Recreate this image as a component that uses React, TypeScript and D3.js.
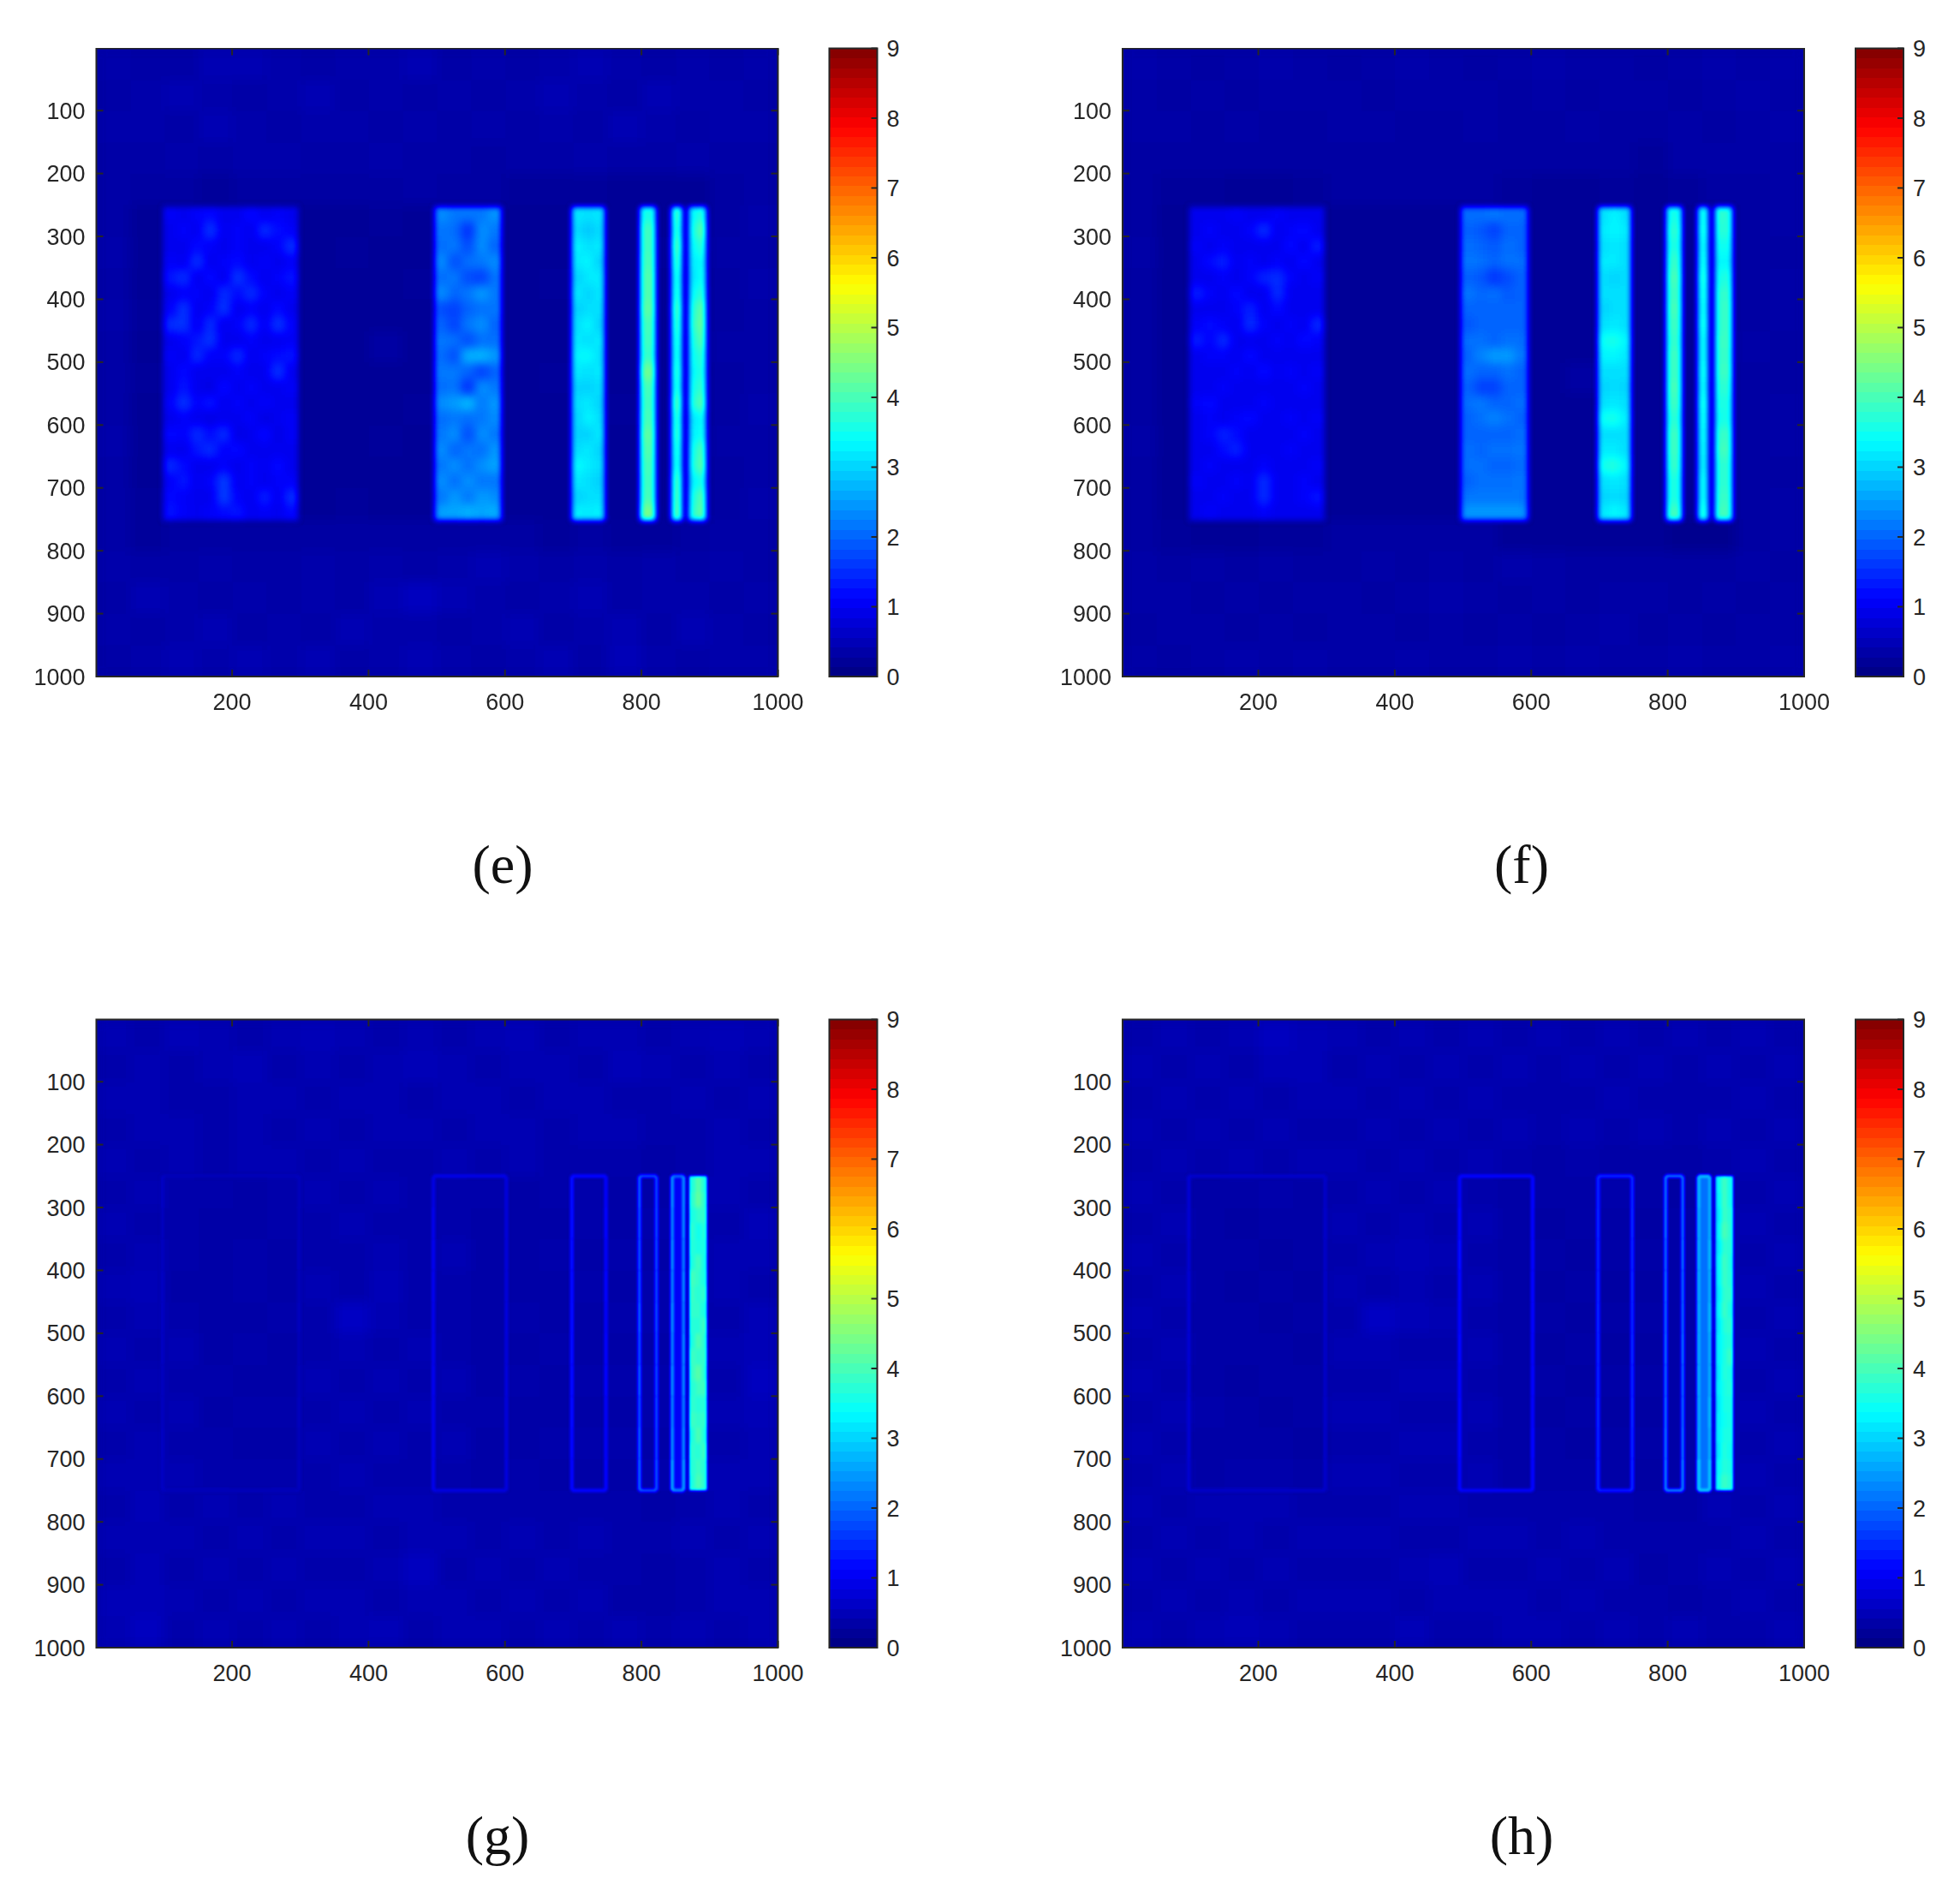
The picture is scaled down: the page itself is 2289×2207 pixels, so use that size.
import React from "react";
import * as d3 from "d3";

// ---- axis content
const xTicks = [200, 400, 600, 800, 1000];
const yTicks = [100, 200, 300, 400, 500, 600, 700, 800, 900, 1000];
const cbTicks = [0, 1, 2, 3, 4, 5, 6, 7, 8, 9];
const panelLabels = ["(e)", "(f)", "(g)", "(h)"];

// ---- background level read on a 50-unit grid (20 rows, 20 columns)
const bgE = [
  [.4,.35,.35,.45,.45,.4,.35,.4,.4,.45,.35,.4,.35,.4,.45,.4,.35,.4,.35,.4],
  [.35,.4,.45,.4,.35,.4,.45,.35,.4,.35,.4,.35,.4,.45,.4,.35,.45,.4,.4,.35],
  [.4,.4,.35,.45,.4,.35,.4,.4,.35,.4,.35,.4,.35,.4,.35,.45,.4,.35,.4,.4],
  [.35,.35,.4,.35,.4,.4,.35,.35,.4,.35,.35,.3,.35,.35,.4,.35,.35,.4,.35,.35],
  [.35,.3,.3,.25,.3,.3,.3,.3,.3,.35,.3,.3,.25,.25,.25,.2,.2,.2,.3,.35],
  [.35,.2,.2,.2,.2,.2,.2,.2,.25,.2,.2,.2,.2,.2,.2,.2,.2,.2,.3,.4],
  [.4,.2,.2,.2,.2,.2,.2,.25,.2,.2,.2,.2,.2,.2,.2,.2,.25,.2,.35,.35],
  [.35,.2,.2,.2,.2,.2,.2,.2,.2,.25,.2,.2,.2,.25,.2,.2,.2,.2,.3,.4],
  [.4,.25,.2,.2,.2,.2,.2,.2,.2,.2,.2,.2,.2,.2,.2,.2,.2,.2,.3,.35],
  [.35,.2,.2,.2,.2,.2,.2,.2,.3,.2,.2,.2,.2,.2,.2,.2,.2,.2,.35,.35],
  [.35,.25,.2,.2,.2,.2,.2,.2,.2,.2,.2,.2,.2,.25,.2,.2,.2,.2,.3,.35],
  [.35,.2,.2,.2,.2,.2,.2,.2,.2,.25,.2,.2,.2,.2,.2,.25,.2,.2,.3,.4],
  [.4,.2,.2,.2,.2,.2,.2,.2,.25,.2,.2,.2,.2,.2,.2,.2,.2,.2,.35,.35],
  [.35,.2,.2,.2,.2,.2,.2,.2,.2,.2,.2,.2,.2,.2,.2,.2,.2,.2,.3,.35],
  [.35,.25,.2,.2,.2,.2,.2,.25,.2,.2,.2,.2,.2,.2,.2,.2,.2,.2,.3,.4],
  [.35,.25,.3,.3,.3,.3,.3,.3,.3,.3,.3,.3,.3,.25,.3,.25,.25,.3,.35,.35],
  [.4,.35,.35,.4,.35,.35,.4,.35,.4,.35,.4,.45,.4,.35,.4,.35,.4,.35,.4,.35],
  [.35,.45,.4,.35,.4,.35,.4,.35,.45,.55,.45,.4,.35,.4,.45,.35,.4,.4,.35,.4],
  [.4,.35,.4,.45,.35,.4,.35,.45,.4,.4,.35,.4,.45,.35,.4,.45,.35,.45,.4,.35],
  [.35,.4,.45,.4,.45,.4,.45,.35,.4,.45,.4,.35,.4,.45,.35,.5,.4,.35,.4,.4],
];
const bgF = [
  [.4,.35,.3,.35,.4,.35,.3,.35,.4,.35,.3,.35,.4,.35,.35,.3,.35,.4,.35,.4],
  [.35,.3,.35,.3,.35,.35,.35,.3,.35,.35,.35,.3,.35,.3,.35,.35,.3,.35,.4,.35],
  [.35,.35,.3,.35,.3,.3,.35,.35,.3,.3,.35,.3,.3,.35,.3,.3,.35,.3,.35,.4],
  [.3,.3,.3,.3,.3,.3,.3,.3,.3,.3,.3,.3,.3,.3,.3,.25,.35,.35,.35,.35],
  [.3,.25,.25,.2,.2,.25,.3,.3,.3,.3,.3,.25,.2,.2,.25,.2,.25,.3,.3,.35],
  [.3,.2,.2,.2,.2,.2,.2,.2,.2,.2,.2,.2,.2,.2,.2,.2,.2,.2,.3,.35],
  [.35,.2,.2,.2,.2,.2,.2,.22,.2,.2,.2,.2,.2,.2,.2,.2,.2,.2,.3,.3],
  [.3,.2,.2,.2,.2,.2,.2,.2,.2,.2,.2,.2,.2,.2,.2,.2,.2,.2,.3,.35],
  [.3,.2,.2,.2,.2,.2,.2,.2,.2,.2,.2,.2,.2,.2,.2,.2,.2,.2,.3,.35],
  [.3,.2,.2,.2,.2,.2,.2,.2,.22,.2,.2,.2,.2,.2,.2,.2,.2,.2,.35,.3],
  [.3,.2,.2,.2,.2,.2,.2,.2,.2,.2,.2,.2,.2,.3,.2,.2,.2,.2,.3,.3],
  [.3,.2,.2,.2,.2,.2,.2,.22,.2,.2,.2,.2,.2,.2,.2,.2,.2,.2,.3,.35],
  [.35,.2,.2,.2,.2,.2,.2,.2,.2,.2,.2,.2,.2,.2,.2,.2,.2,.2,.3,.35],
  [.3,.2,.2,.2,.2,.2,.2,.2,.2,.2,.2,.2,.2,.2,.2,.2,.22,.2,.3,.3],
  [.3,.2,.2,.2,.2,.2,.2,.2,.2,.2,.2,.2,.2,.2,.2,.2,.2,.2,.3,.35],
  [.3,.25,.2,.2,.25,.25,.3,.3,.3,.3,.3,.2,.2,.2,.2,.2,.15,.15,.3,.35],
  [.35,.3,.35,.3,.35,.3,.3,.35,.3,.35,.3,.4,.35,.3,.3,.3,.3,.3,.35,.3],
  [.35,.35,.3,.35,.3,.35,.35,.3,.35,.4,.35,.3,.35,.3,.35,.35,.3,.35,.3,.35],
  [.3,.35,.35,.3,.35,.3,.35,.35,.3,.35,.3,.35,.3,.35,.4,.3,.35,.3,.35,.35],
  [.35,.3,.35,.4,.35,.4,.35,.35,.4,.35,.35,.4,.35,.4,.35,.35,.4,.35,.35,.4],
];
const bgG = [
  [.45,.4,.5,.45,.4,.45,.5,.45,.4,.45,.4,.45,.5,.4,.45,.45,.4,.45,.5,.45],
  [.4,.45,.4,.45,.5,.4,.45,.4,.45,.5,.45,.4,.45,.45,.4,.5,.45,.4,.45,.4],
  [.45,.45,.4,.4,.45,.45,.4,.45,.45,.4,.45,.45,.4,.45,.45,.4,.4,.45,.4,.45],
  [.4,.45,.45,.4,.45,.4,.45,.4,.45,.45,.4,.45,.45,.4,.45,.45,.4,.4,.45,.4],
  [.45,.4,.45,.4,.45,.45,.4,.45,.4,.4,.45,.4,.45,.4,.4,.4,.35,.4,.45,.45],
  [.4,.45,.4,.4,.35,.4,.45,.4,.45,.4,.4,.4,.35,.4,.4,.35,.35,.45,.45,.4],
  [.45,.4,.4,.35,.35,.4,.4,.45,.4,.4,.4,.35,.35,.35,.4,.35,.4,.4,.4,.5],
  [.4,.45,.4,.35,.4,.35,.4,.4,.45,.4,.45,.35,.35,.4,.35,.4,.35,.4,.45,.45],
  [.45,.5,.35,.35,.4,.35,.45,.4,.5,.4,.4,.35,.35,.35,.4,.35,.4,.4,.45,.4],
  [.4,.45,.4,.35,.35,.4,.4,.6,.45,.4,.4,.35,.4,.35,.35,.4,.4,.4,.4,.5],
  [.45,.4,.45,.35,.4,.35,.4,.45,.4,.45,.4,.35,.35,.4,.35,.35,.35,.45,.45,.5],
  [.4,.45,.4,.4,.35,.35,.45,.4,.45,.4,.45,.35,.4,.35,.4,.4,.4,.4,.4,.55],
  [.45,.4,.45,.35,.4,.4,.4,.45,.4,.45,.4,.4,.35,.35,.35,.35,.4,.45,.45,.5],
  [.4,.45,.4,.4,.35,.35,.45,.4,.45,.4,.45,.35,.35,.4,.4,.4,.35,.4,.4,.45],
  [.45,.45,.45,.4,.4,.4,.4,.45,.4,.4,.4,.35,.4,.35,.35,.35,.4,.45,.45,.45],
  [.4,.5,.4,.45,.4,.45,.4,.4,.45,.45,.4,.4,.4,.4,.4,.4,.35,.4,.45,.4],
  [.45,.45,.45,.4,.45,.4,.45,.45,.4,.45,.45,.4,.45,.4,.45,.4,.4,.45,.4,.45],
  [.4,.5,.4,.45,.4,.45,.4,.4,.45,.55,.4,.45,.4,.45,.4,.4,.35,.4,.45,.4],
  [.5,.5,.45,.4,.45,.4,.45,.45,.4,.45,.45,.4,.45,.4,.45,.35,.35,.4,.45,.45],
  [.45,.55,.4,.45,.4,.45,.4,.45,.5,.4,.45,.45,.4,.45,.4,.45,.4,.45,.4,.45],
];
const bgH = [
  [.4,.45,.4,.45,.55,.5,.45,.4,.45,.4,.45,.4,.45,.4,.45,.4,.45,.4,.45,.4],
  [.45,.4,.45,.4,.5,.5,.4,.45,.4,.45,.4,.45,.4,.45,.4,.45,.4,.45,.4,.45],
  [.4,.45,.4,.45,.4,.45,.45,.4,.45,.4,.45,.4,.4,.4,.45,.4,.4,.4,.45,.4],
  [.45,.4,.45,.4,.45,.4,.4,.45,.4,.45,.4,.45,.4,.45,.4,.45,.4,.45,.4,.45],
  [.4,.45,.4,.45,.4,.45,.45,.4,.45,.4,.45,.4,.35,.4,.35,.35,.35,.4,.45,.4],
  [.45,.4,.35,.35,.4,.35,.4,.45,.4,.45,.4,.35,.35,.35,.4,.35,.3,.4,.4,.45],
  [.4,.45,.35,.3,.35,.35,.45,.4,.45,.4,.45,.35,.3,.35,.35,.3,.35,.4,.45,.4],
  [.45,.4,.35,.35,.3,.35,.4,.45,.5,.45,.4,.35,.35,.3,.35,.35,.35,.45,.4,.45],
  [.4,.45,.35,.3,.35,.3,.45,.4,.45,.4,.45,.35,.3,.35,.3,.3,.35,.4,.45,.4],
  [.45,.4,.35,.35,.3,.35,.4,.6,.5,.45,.4,.35,.35,.3,.35,.35,.35,.45,.4,.45],
  [.4,.45,.35,.35,.35,.3,.45,.45,.4,.4,.45,.35,.3,.35,.3,.3,.35,.4,.45,.4],
  [.45,.4,.35,.3,.35,.35,.4,.4,.45,.45,.4,.35,.35,.3,.35,.35,.35,.45,.4,.45],
  [.4,.45,.4,.35,.3,.35,.45,.45,.4,.4,.45,.35,.3,.35,.3,.3,.35,.4,.45,.4],
  [.45,.4,.35,.35,.35,.3,.4,.4,.45,.45,.4,.35,.35,.3,.35,.35,.35,.45,.4,.45],
  [.4,.45,.35,.4,.4,.35,.45,.45,.4,.4,.45,.35,.35,.35,.35,.3,.35,.4,.45,.4],
  [.45,.4,.45,.45,.45,.4,.4,.4,.45,.45,.4,.4,.4,.4,.4,.35,.35,.45,.4,.45],
  [.4,.45,.4,.45,.4,.45,.45,.45,.4,.4,.45,.45,.4,.45,.4,.4,.4,.4,.45,.4],
  [.45,.4,.45,.4,.45,.4,.4,.4,.45,.5,.4,.4,.45,.4,.45,.35,.4,.45,.4,.45],
  [.4,.45,.4,.45,.4,.45,.45,.45,.4,.45,.45,.45,.4,.45,.4,.4,.35,.4,.45,.4],
  [.45,.4,.45,.5,.45,.4,.4,.4,.5,.4,.4,.45,.45,.4,.45,.4,.45,.4,.4,.45],
];

// ---- extents of the six bars (data units)
const barSpansEF = [[99,297],[497,595],[698,746],[798,821],[844,860],[869,895]];
const barSpansGH = [[98,298],[495,602],[698,748],[797,822],[845,862],[870,896]];
const barRowsEF = [253, 752];
const barRowsGH = [250, 750];

// ---- panel (e): bar levels, rows run down the bar
const eBar1 = [
  [1.1,1.0,1.1,1.2,1.0,1.0,1.2,1.0,1.1,1.0],
  [1.0,1.1,1.0,1.6,1.0,1.1,1.0,1.5,1.2,1.1],
  [1.0,1.0,1.2,1.1,1.0,1.1,1.0,1.0,1.1,1.6],
  [1.1,1.0,1.6,1.0,1.1,1.2,1.0,1.1,1.0,1.1],
  [1.3,1.5,1.0,1.2,1.0,1.6,1.2,1.0,1.1,1.3],
  [1.0,1.1,1.1,1.0,1.5,1.2,1.5,1.1,1.0,1.1],
  [1.1,1.6,1.0,1.1,1.6,1.0,1.1,1.0,1.2,1.0],
  [1.5,1.6,1.0,1.5,1.0,1.1,1.5,1.0,1.6,1.1],
  [1.0,1.1,1.3,1.6,1.0,1.0,1.1,1.0,1.0,1.1],
  [1.1,1.0,1.5,1.1,1.1,1.5,1.0,1.1,1.2,1.3],
  [1.0,1.2,1.0,1.0,1.0,1.1,1.0,1.0,1.6,1.0],
  [1.0,1.3,1.0,.9,1.2,1.0,1.1,1.0,1.0,1.1],
  [1.1,1.6,1.1,1.3,1.0,1.1,1.0,1.1,1.0,1.0],
  [1.0,1.1,1.0,.9,1.0,1.0,1.1,.9,1.0,1.1],
  [1.2,1.1,1.5,1.2,1.5,.9,1.0,1.2,.9,1.1],
  [1.0,1.0,1.3,1.5,1.1,1.2,1.0,1.0,1.0,1.0],
  [1.5,1.2,1.0,1.0,1.1,1.0,1.1,1.0,1.2,1.0],
  [1.1,1.3,1.0,1.1,1.7,1.0,1.1,1.0,1.1,1.1],
  [1.2,1.1,1.0,1.0,1.7,1.1,1.0,1.4,1.0,1.6],
  [1.3,1.1,1.0,1.1,1.2,1.3,1.0,1.1,1.0,1.2],
];
const eBar2 = [
  [2.4,2.2,2.2,2.2,2.5],
  [2.2,2.1,1.5,2.4,2.2],
  [2.1,2.2,1.8,2.4,2.0],
  [2.4,1.8,2.1,2.2,2.4],
  [2.1,2.2,1.8,1.7,2.2],
  [2.4,2.0,2.2,2.5,2.2],
  [1.8,1.7,2.0,2.1,2.2],
  [2.0,1.7,2.2,2.4,2.0],
  [2.2,2.1,1.8,2.1,2.1],
  [2.1,1.8,2.7,2.7,2.5],
  [2.2,2.2,2.0,1.7,2.0],
  [2.1,2.2,1.5,2.4,2.2],
  [2.4,2.5,2.8,2.2,2.5],
  [2.1,2.2,2.1,2.2,2.4],
  [2.2,2.4,1.8,2.4,2.2],
  [2.4,2.0,2.2,2.1,2.5],
  [2.2,2.4,2.1,2.4,2.6],
  [2.4,2.1,2.4,2.2,2.2],
  [2.2,2.5,2.2,2.5,2.4],
  [2.6,2.6,2.7,2.6,2.7],
];
const eBar3 = [
  [3.2,3.1,3.2],[3.1,2.9,3.1],[3.3,3.1,3.2],[3.2,3.3,3.0],[3.0,3.2,3.2],
  [3.2,3.0,3.2],[3.0,3.1,3.1],[3.1,3.3,3.0],[3.2,3.1,3.2],[3.3,3.4,3.1],
  [3.2,3.1,3.2],[3.0,3.0,3.1],[3.1,3.2,3.0],[3.0,3.3,3.1],[3.0,3.0,3.2],
  [3.1,3.2,3.0],[3.4,3.2,3.1],[3.2,3.1,3.0],[3.0,3.1,3.1],[3.3,3.2,3.3],
];
const eBar4 = [[3.5],[3.9],[3.9],[4.0],[4.1],[4.1],[4.2],[4.0],[3.9],[3.8],[4.4],[4.0],[3.9],[4.0],[4.2],[4.1],[4.0],[3.9],[4.0],[4.5]];
const eBar5 = [[3.9],[3.7],[4.1],[3.8],[3.5],[3.6],[4.0],[3.8],[3.6],[3.5],[3.7],[3.6],[4.1],[3.7],[3.8],[3.6],[3.5],[4.0],[4.1],[4.2]];
const eBar6 = [
  [3.2,3.8],[3.3,4.5],[3.2,3.9],[3.1,3.5],[3.0,3.6],[3.2,3.9],[3.5,4.5],[3.6,4.6],[3.4,4.4],
  [3.3,3.9],[3.2,3.8],[3.4,4.0],[3.5,4.4],[3.0,3.5],[3.1,3.6],[3.3,4.3],[3.4,4.5],[3.1,3.7],[3.4,4.4],[3.6,4.5],
];

// ---- panel (f)
const fBar1 = [
  [1.0,1.0,1.0,1.1,1.0,1.0,1.1,1.0,1.0,1.0],
  [1.0,1.1,1.0,1.0,1.1,1.5,1.0,1.1,1.2,1.0],
  [1.1,1.0,1.1,1.0,1.0,1.0,1.0,1.2,1.0,1.4],
  [1.0,1.2,1.4,1.0,1.1,1.0,1.1,1.0,1.2,1.0],
  [1.0,1.0,1.1,1.0,1.1,1.4,1.5,1.1,1.0,1.1],
  [1.4,1.1,1.0,1.2,1.0,1.0,1.5,1.0,1.0,1.0],
  [1.0,1.0,1.0,1.1,1.4,1.0,1.2,1.0,1.0,1.0],
  [1.1,1.2,1.1,1.0,1.5,1.1,1.0,1.1,1.0,1.5],
  [1.4,1.1,1.5,1.0,1.0,1.0,1.1,1.0,1.2,1.1],
  [1.0,1.1,1.1,1.0,1.2,1.0,1.0,1.0,1.0,1.0],
  [1.0,1.0,1.0,1.1,1.0,1.2,1.0,1.1,1.0,1.1],
  [1.0,1.0,1.1,1.0,1.0,1.0,1.0,1.0,1.1,1.0],
  [1.1,1.2,1.0,1.0,1.0,1.1,1.0,1.0,1.0,1.0],
  [1.0,1.1,1.0,1.1,1.2,1.0,1.0,1.1,1.0,1.1],
  [1.0,1.1,1.4,1.2,1.0,1.0,1.0,1.0,1.1,1.0],
  [1.0,1.0,1.2,1.4,1.0,1.0,1.0,1.1,1.0,1.0],
  [1.0,1.1,1.0,1.0,1.0,1.1,1.0,1.0,1.0,1.1],
  [1.1,1.0,1.0,1.1,1.0,1.5,1.0,1.0,1.1,1.0],
  [1.0,1.0,1.1,1.0,1.0,1.5,1.0,1.0,1.1,1.3],
  [1.0,1.1,1.0,1.0,1.0,1.1,1.0,1.0,1.0,1.0],
];
const fBar2 = [
  [2.1,2.1,2.2,2.1,2.1],
  [2.0,1.9,1.7,2.0,2.0],
  [2.1,2.0,1.9,2.1,2.0],
  [2.2,2.1,2.0,2.1,2.1],
  [2.0,1.9,1.6,1.8,2.0],
  [2.2,2.0,2.1,1.9,2.0],
  [2.0,2.0,2.0,2.0,2.0],
  [1.9,2.0,2.0,2.0,2.0],
  [2.1,2.1,2.0,2.1,2.1],
  [2.0,2.3,2.5,2.5,2.2],
  [2.1,2.0,2.0,2.1,2.0],
  [2.0,1.7,1.7,2.0,2.0],
  [2.1,2.2,2.0,2.0,2.1],
  [2.0,2.1,2.3,2.1,2.0],
  [2.0,2.0,2.0,2.0,2.1],
  [2.1,2.0,2.1,2.1,2.2],
  [2.1,2.1,2.0,2.0,2.1],
  [2.0,2.1,2.1,2.1,2.2],
  [2.2,2.2,2.2,2.2,2.2],
  [2.5,2.5,2.5,2.5,2.5],
];
const fBar3 = [
  [3.1,3.3,3.1],[3.2,3.3,3.2],[3.1,3.2,3.1],[3.2,3.2,3.1],[3.1,3.0,3.1],
  [3.1,3.1,3.1],[3.0,3.1,3.1],[3.1,3.2,3.1],[3.5,3.6,3.3],[3.3,3.3,3.2],
  [3.1,3.1,3.1],[3.0,3.1,3.0],[3.1,3.2,3.1],[3.5,3.6,3.2],[3.1,3.1,3.1],
  [3.2,3.2,3.1],[3.6,3.7,3.3],[3.1,3.2,3.1],[3.0,3.1,3.0],[3.2,3.4,3.2],
];
const fBar4 = [[3.5],[3.7],[3.6],[3.8],[4.0],[3.9],[4.0],[3.9],[3.8],[3.9],[3.9],[4.0],[3.9],[3.7],[3.9],[3.9],[3.8],[3.6],[3.6],[4.0]];
const fBar5 = [[3.5],[3.6],[3.4],[3.5],[3.7],[3.6],[3.5],[3.6],[3.4],[3.4],[3.5],[3.4],[3.6],[3.5],[3.4],[3.3],[3.2],[3.4],[3.4],[3.7]];
const fBar6 = [
  [3.8,3.7],[3.7,3.7],[3.5,3.5],[3.3,3.3],[3.5,3.7],[3.7,3.9],[3.7,4.0],[3.7,4.0],[3.8,4.0],
  [3.8,3.9],[3.8,4.0],[3.7,3.8],[3.6,3.6],[3.5,3.6],[3.8,3.9],[3.9,4.0],[3.7,3.8],[3.7,3.8],[3.8,3.9],[4.0,4.0],
];

// ---- panel (g): the bars read as outlines; ten level readings down each side
const gLeft = [
  [.62,.6,.6,.62,.65,.62,.6,.6,.62,.62],
  [.95,1.05,1.1,1.1,1.05,1.05,1.1,1.05,1.05,1.05],
  [1.4,1.45,1.4,1.4,1.45,1.4,1.4,1.4,1.35,1.3],
  [2.1,2.0,2.0,2.0,2.1,2.0,2.1,2.0,2.1,2.2],
  [2.5,2.4,2.5,2.4,2.5,2.4,2.5,2.4,2.5,2.7],
];
const gRight = [
  [.55,.55,.6,.55,.6,.55,.55,.6,.55,.6],
  [.9,.9,.9,.9,.9,.9,.9,.9,.9,.9],
  [1.25,1.3,1.25,1.3,1.25,1.3,1.3,1.25,1.25,1.3],
  [1.9,1.9,1.95,1.9,1.95,1.9,1.9,1.9,1.9,2.0],
  [2.5,2.5,2.4,2.5,2.4,2.5,2.5,2.4,2.5,2.7],
];
const gTop = [.55, 1.05, 1.35, 1.95, 2.2];
const gBottom = [.55, .95, 1.3, 2.0, 2.5];
const gInner5 = [[1.05]];
const gBar6 = [
  [3.6,4.2,3.6],[3.7,4.3,3.7],[3.6,3.8,3.8],[3.8,3.5,3.7],[3.7,3.6,3.6],[3.6,4.0,3.5],[4.0,3.8,3.6],[3.9,3.7,3.8],[3.8,3.8,3.6],[3.7,3.7,3.9],
  [3.6,4.1,3.7],[3.9,3.8,3.8],[3.8,4.2,3.7],[3.7,3.9,3.9],[3.8,3.7,3.7],[3.9,3.8,3.8],[3.6,4.1,3.6],[3.8,3.7,3.9],[3.7,3.9,3.7],[3.6,4.1,3.7],
];

// ---- panel (h)
const hLeft = [
  [.8,.8,.78,.8,.82,.8,.78,.8,.8,.78],
  [1.25,1.35,1.4,1.35,1.3,1.35,1.3,1.35,1.35,1.3],
  [1.65,1.7,1.65,1.65,1.7,1.65,1.65,1.7,1.65,1.65],
  [2.25,2.3,2.2,2.25,2.2,2.25,2.2,2.25,2.3,2.4],
  [2.9,2.8,2.8,2.8,2.75,2.8,2.8,2.75,2.8,3.1],
];
const hRight = [
  [.72,.7,.72,.7,.72,.7,.7,.72,.7,.72],
  [1.3,1.3,1.3,1.35,1.3,1.3,1.3,1.3,1.35,1.3],
  [1.65,1.7,1.65,1.7,1.65,1.7,1.65,1.7,1.65,1.65],
  [2.2,2.2,2.25,2.2,2.2,2.25,2.2,2.2,2.25,2.4],
  [2.8,2.8,2.9,2.8,2.9,2.8,2.8,2.9,2.8,3.0],
];
const hTop = [.75, 1.3, 1.7, 2.3, 3.0];
const hBottom = [.7, 1.25, 1.55, 2.5, 3.1];
const hInner5 = [[2.1]];
const hBar6 = [
  [3.3,4.0,3.5],[3.2,4.0,3.5],[3.1,3.9,3.7],[3.2,4.1,3.7],[3.1,3.8,3.7],[3.2,4.0,3.6],[3.2,3.9,3.7],[3.1,3.8,3.8],[3.2,3.9,3.6],[3.1,3.7,3.8],
  [3.2,3.6,3.7],[3.2,3.6,3.9],[3.1,3.7,3.6],[3.2,3.6,3.7],[3.1,3.6,3.6],[3.2,3.5,3.6],[3.2,3.6,3.6],[3.1,3.7,3.5],[3.3,3.7,3.6],[3.4,3.9,3.7],
];

// ---- layout
const W = 2289, H = 2207;
const plotW = 796, plotH = 733.5;
const colX = [112.5, 1311];
const rowY = [56.5, 1190.5];
const cbOffset = 856, cbW = 56;
const labelY = 1031;
const labelCenter = [[587, 1777], [581, 1777]];
const INK = "#262626";

const jet = (t: number) => {
  const c = (v: number) => Math.max(0, Math.min(1, v));
  return [c(1.5 - Math.abs(4 * t - 3)), c(1.5 - Math.abs(4 * t - 2)), c(1.5 - Math.abs(4 * t - 1))];
};
const jetLevels = d3.range(64).map((i) => jet((i + 0.5) / 64));
const toHex = (c: number[]) => d3.rgb(c[0] * 255, c[1] * 255, c[2] * 255).formatHex();

const xS = d3.scaleLinear().domain([1, 1000]).range([0, plotW]);
const yS = d3.scaleLinear().domain([1, 1000]).range([0, plotH]);
const grayS = d3.scaleLinear().domain([0, 9]).range([0, 255]);
const cbS = d3.scaleLinear().domain([0, 9]).range([plotH, 0]);
const gray = (v: number) => { const g = Math.round(grayS(v)); return `rgb(${g},${g},${g})`; };

type Fill = { span: number[]; rows: number[]; values: number[][] };

function Matrix({ fill, id, tex }: { fill: Fill; id: string; tex: string }) {
  const { span, rows, values } = fill;
  const r = d3.scaleLinear().domain([0, values.length]).range(rows);
  const c = d3.scaleLinear().domain([0, values[0].length]).range(span);
  const box = { x: xS(span[0]), y: yS(rows[0]), width: xS(span[1]) - xS(span[0]), height: yS(rows[1]) - yS(rows[0]) };
  return (
    <g clipPath={`url(#${id})`}>
      <clipPath id={id}><rect {...box} /></clipPath>
      <rect {...box} fill={gray(d3.mean(values.flat()) as number)} />
      <g filter={`url(#${tex})`} shapeRendering="crispEdges">
        {values.map((row, i) =>
          row.map((v, j) => (
            <rect key={`${i}-${j}`} x={xS(c(j))} y={yS(r(i))} width={xS(c(j + 1)) - xS(c(j))}
              height={yS(r(i + 1)) - yS(r(i))} fill={gray(v)} />
          ))
        )}
      </g>
    </g>
  );
}

const EDGE = 5; // outline thickness in data units

function Outline({ span, rows, left, right, top, bottom }:
  { span: number[]; rows: number[]; left: number[]; right: number[]; top: number; bottom: number }) {
  const r = d3.scaleLinear().domain([0, left.length]).range(rows);
  const side = (vals: number[], x: number) => vals.map((v, i) => (
    <rect key={`${x}-${i}`} x={xS(x - EDGE / 2)} y={yS(r(i))} width={xS(x + EDGE / 2) - xS(x - EDGE / 2)}
      height={yS(r(i + 1)) - yS(r(i))} fill={gray(v)} />
  ));
  const bar = (v: number, y: number) => (
    <rect x={xS(span[0])} y={yS(y - EDGE / 2)} width={xS(span[1]) - xS(span[0])}
      height={yS(y + EDGE / 2) - yS(y - EDGE / 2)} fill={gray(v)} />
  );
  return (
    <g>
      {bar(top, rows[0])}
      {bar(bottom, rows[1])}
      {side(left, span[0])}
      {side(right, span[1])}
    </g>
  );
}

const panels = [
  { bg: bgE, blur: "blurE", tex: "texEF", fills: [eBar1, eBar2, eBar3, eBar4, eBar5, eBar6].map((values, i) => ({ span: barSpansEF[i], rows: barRowsEF, values })), lines: null },
  { bg: bgF, blur: "blurF", tex: "texEF", fills: [fBar1, fBar2, fBar3, fBar4, fBar5, fBar6].map((values, i) => ({ span: barSpansEF[i], rows: barRowsEF, values })), lines: null },
  { bg: bgG, blur: "blurG", tex: "texGH",
    fills: [{ span: barSpansGH[4], rows: barRowsGH, values: gInner5 }, { span: barSpansGH[5], rows: barRowsGH, values: gBar6 }],
    lines: { left: gLeft, right: gRight, top: gTop, bottom: gBottom } },
  { bg: bgH, blur: "blurH", tex: "texGH",
    fills: [{ span: barSpansGH[4], rows: barRowsGH, values: hInner5 }, { span: barSpansGH[5], rows: barRowsGH, values: hBar6 }],
    lines: { left: hLeft, right: hRight, top: hTop, bottom: hBottom } },
];

const tableStr = (k: number) => d3.range(64).map((i) => jet(i / 63)[k].toFixed(4)).join(" ");

function Panel({ p, index }: { p: (typeof panels)[number]; index: number }) {
  const col = index % 2, row = Math.floor(index / 2);
  const bgR = d3.scaleLinear().domain([0, p.bg.length]).range([1, 1000]);
  const bgC = d3.scaleLinear().domain([0, p.bg[0].length]).range([1, 1000]);
  const txt = { fontFamily: "'Liberation Sans', Arial, sans-serif", fontSize: 27, fill: INK };
  const clip = `clip-${index}`;
  return (
    <g transform={`translate(${colX[col]},${rowY[row]})`}>
      <clipPath id={clip}><rect x={0} y={0} width={plotW} height={plotH} /></clipPath>
      <g clipPath={`url(#${clip})`}>
        <g filter="url(#jetMap)">
          <rect x={-60} y={-60} width={plotW + 120} height={plotH + 120} fill={gray(0.38)} />
          <g filter="url(#blurBg)" shapeRendering="crispEdges">
            {p.bg.map((r, i) => r.map((v, j) => (
              <rect key={`${i}-${j}`} x={xS(bgC(j))} y={yS(bgR(i))} width={xS(bgC(j + 1)) - xS(bgC(j))}
                height={yS(bgR(i + 1)) - yS(bgR(i))} fill={gray(v)} />
            )))}
          </g>
          <g filter={`url(#${p.blur})`}>
            {p.fills.map((f, i) => <Matrix key={i} fill={f} id={`bar-${index}-${i}`} tex={p.tex} />)}
            {p.lines && p.lines.left.map((l, i) => (
              <Outline key={i} span={barSpansGH[i]} rows={barRowsGH} left={l} right={p.lines!.right[i]}
                top={p.lines!.top[i]} bottom={p.lines!.bottom[i]} />
            ))}
          </g>
        </g>
      </g>
      {/* frame and ticks */}
      <rect x={0} y={0} width={plotW} height={plotH} fill="none" stroke={INK} strokeWidth={2} />
      {xTicks.map((t) => (
        <g key={t}>
          <line x1={xS(t)} x2={xS(t)} y1={plotH} y2={plotH - 8} stroke={INK} strokeWidth={2} />
          <line x1={xS(t)} x2={xS(t)} y1={0} y2={8} stroke={INK} strokeWidth={2} />
          <text x={xS(t)} y={plotH + 39} textAnchor="middle" {...txt}>{t}</text>
        </g>
      ))}
      {yTicks.map((t) => (
        <g key={t}>
          <line x1={0} x2={8} y1={yS(t)} y2={yS(t)} stroke={INK} strokeWidth={2} />
          <line x1={plotW} x2={plotW - 8} y1={yS(t)} y2={yS(t)} stroke={INK} strokeWidth={2} />
          <text x={-13} y={yS(t) + 9.5} textAnchor="end" {...txt}>{t}</text>
        </g>
      ))}
      {/* colour bar */}
      <g transform={`translate(${cbOffset},0)`}>
        {jetLevels.map((c, i) => {
          const step = d3.scaleLinear().domain([0, 64]).range([0, 9]);
          return (
            <rect key={i} x={0} y={cbS(step(i + 1))} width={cbW} height={cbS(step(i)) - cbS(step(i + 1)) + 0.5}
              fill={toHex(c)} shapeRendering="crispEdges" />
          );
        })}
        <rect x={0} y={0} width={cbW} height={plotH} fill="none" stroke={INK} strokeWidth={2} />
        {cbTicks.map((t) => (
          <g key={t}>
            <line x1={cbW} x2={cbW - 7} y1={cbS(t)} y2={cbS(t)} stroke={INK} strokeWidth={2} />
            <text x={cbW + 11} y={cbS(t) + 9.5} {...txt}>{t}</text>
          </g>
        ))}
      </g>
    </g>
  );
}

export default function App() {
  return (
    <svg width={W} height={H} viewBox={`0 0 ${W} ${H}`}
      style={{ position: "absolute", left: 0, top: 0, display: "block", background: "#fff" }}>
      <defs>
        <filter id="jetMap" filterUnits="userSpaceOnUse" x={-70} y={-70} width={plotW + 140} height={plotH + 140} colorInterpolationFilters="sRGB">
          <feComponentTransfer>
            <feFuncR type="table" tableValues={tableStr(0)} />
            <feFuncG type="table" tableValues={tableStr(1)} />
            <feFuncB type="table" tableValues={tableStr(2)} />
          </feComponentTransfer>
        </filter>
        {([["blurBg", 7], ["blurE", 3.0], ["blurF", 3.4], ["blurG", 1.5], ["blurH", 1.7], ["texEF", 5], ["texGH", 2]] as [string, number][]).map(([id, s]) => (
          <filter key={id} id={id} filterUnits="userSpaceOnUse" x={-70} y={-70} width={plotW + 140} height={plotH + 140} colorInterpolationFilters="sRGB">
            <feGaussianBlur stdDeviation={s} />
          </filter>
        ))}
      </defs>
      {panels.map((p, i) => <Panel key={i} p={p} index={i} />)}
      {panelLabels.map((l, i) => (
        <text key={l} x={labelCenter[Math.floor(i / 2)][i % 2]} y={labelY + Math.floor(i / 2) * (rowY[1] - rowY[0])}
          textAnchor="middle" fontFamily="'Liberation Serif', serif" fontSize={64} fill="#111">{l}</text>
      ))}
    </svg>
  );
}
